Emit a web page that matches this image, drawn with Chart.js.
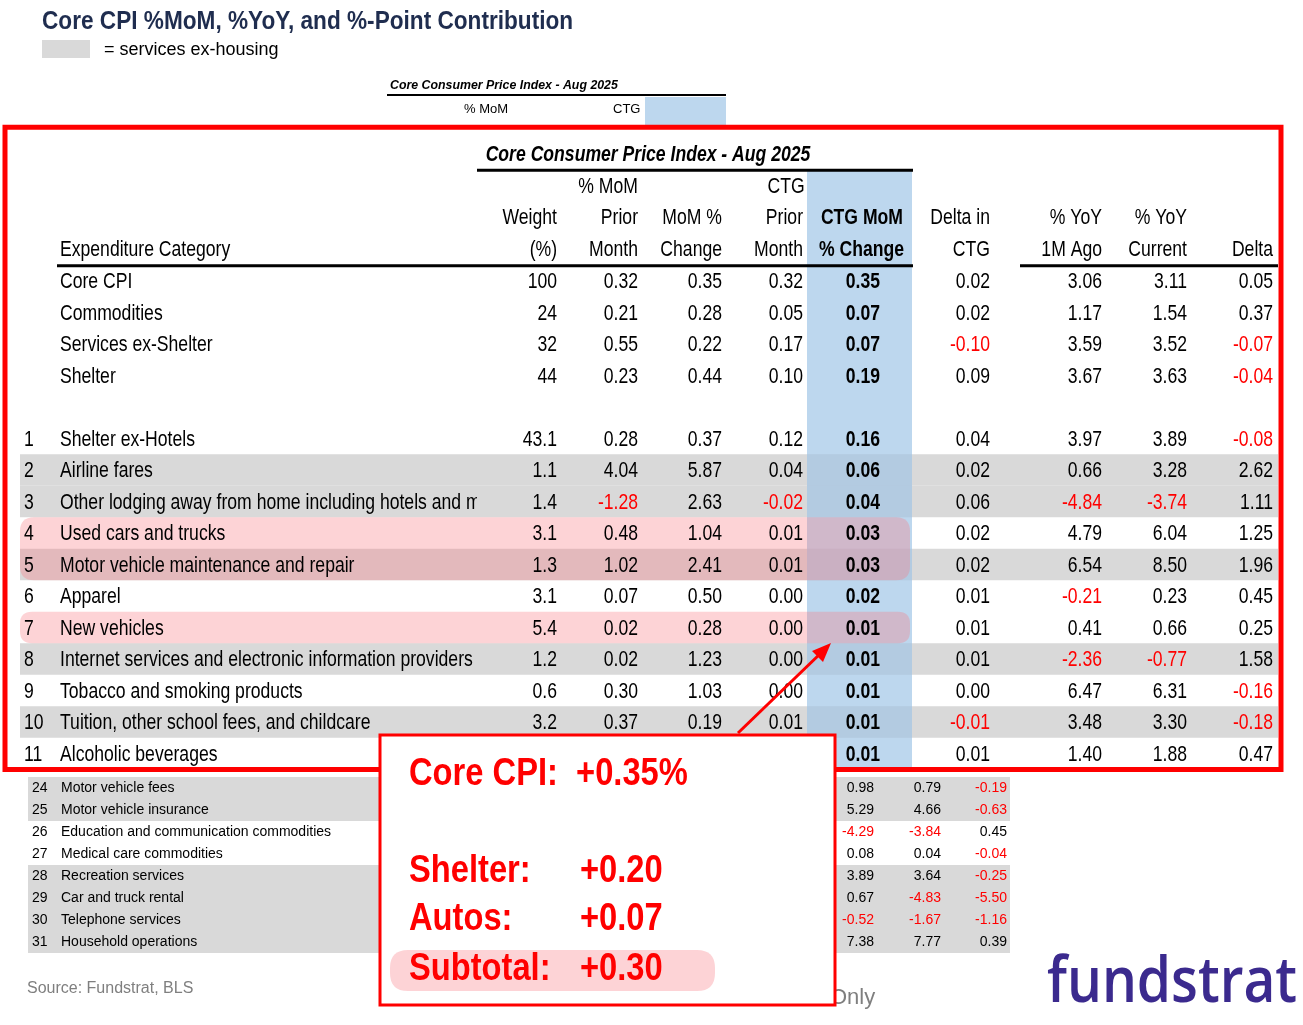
<!DOCTYPE html>
<html>
<head>
<meta charset="utf-8">
<script src="https://cdn.jsdelivr.net/npm/chart.js@4.4.1/dist/chart.umd.min.js"></script>
<style>
  html, body { margin: 0; padding: 0; background: #fff; }
  canvas { display: block; }
</style>
</head>
<body>
<canvas id="cpi-table" width="1303" height="1025"></canvas>
<script>
// ---- data ----
const rowNums = ['', '', '', '', '1', '2', '3', '4', '5', '6', '7', '8', '9', '10', '11'];
const categories = [
  'Core CPI', 'Commodities', 'Services ex-Shelter', 'Shelter',
  'Shelter ex-Hotels', 'Airline fares', 'Other lodging away from home including hotels and motels',
  'Used cars and trucks', 'Motor vehicle maintenance and repair', 'Apparel', 'New vehicles',
  'Internet services and electronic information providers', 'Tobacco and smoking products',
  'Tuition, other school fees, and childcare', 'Alcoholic beverages'
];
const rowIndex   = [0, 1, 2, 3, 5, 6, 7, 8, 9, 10, 11, 12, 13, 14, 15];
const weight     = [100, 24, 32, 44, 43.1, 1.1, 1.4, 3.1, 1.3, 3.1, 5.4, 1.2, 0.6, 3.2, null];
const priorMoM   = [0.32, 0.21, 0.55, 0.23, 0.28, 4.04, -1.28, 0.48, 1.02, 0.07, 0.02, 0.02, 0.30, 0.37, null];
const momChange  = [0.35, 0.28, 0.22, 0.44, 0.37, 5.87, 2.63, 1.04, 2.41, 0.50, 0.28, 1.23, 1.03, 0.19, null];
const ctgPrior   = [0.32, 0.05, 0.17, 0.10, 0.12, 0.04, -0.02, 0.01, 0.01, 0.00, 0.00, 0.00, 0.00, 0.01, null];
const ctgMoM     = [0.35, 0.07, 0.07, 0.19, 0.16, 0.06, 0.04, 0.03, 0.03, 0.02, 0.01, 0.01, 0.01, 0.01, 0.01];
const deltaCTG   = [0.02, 0.02, -0.10, 0.09, 0.04, 0.02, 0.06, 0.02, 0.02, 0.01, 0.01, 0.01, 0.00, -0.01, 0.01];
const yoy1M      = [3.06, 1.17, 3.59, 3.67, 3.97, 0.66, -4.84, 4.79, 6.54, -0.21, 0.41, -2.36, 6.47, 3.48, 1.40];
const yoyCurrent = [3.11, 1.54, 3.52, 3.63, 3.89, 3.28, -3.74, 6.04, 8.50, 0.23, 0.66, -0.77, 6.31, 3.30, 1.88];
const yoyDelta   = [0.05, 0.37, -0.07, -0.04, -0.08, 2.62, 1.11, 1.25, 1.96, 0.45, 0.25, 1.58, -0.16, -0.18, 0.47];
const servicesExHousing = [false, false, false, false, false, true, true, false, true, false, false, true, false, true, false];

const lowerNums   = [24, 25, 26, 27, 28, 29, 30, 31];
const lowerCats   = ['Motor vehicle fees', 'Motor vehicle insurance', 'Education and communication commodities',
  'Medical care commodities', 'Recreation services', 'Car and truck rental', 'Telephone services', 'Household operations'];
const lowerYoY1M  = [0.98, 5.29, -4.29, 0.08, 3.89, 0.67, -0.52, 7.38];
const lowerYoYCur = [0.79, 4.66, -3.84, 0.04, 3.64, -4.83, -1.67, 7.77];
const lowerDelta  = [-0.19, -0.63, 0.45, -0.04, -0.25, -5.50, -1.16, 0.39];
const lowerGrey   = [true, true, false, false, true, true, true, true];

const calloutLabels = ['Shelter:', 'Autos:', 'Subtotal:'];
const calloutValues = [0.20, 0.07, 0.30];
const coreHeadline = 0.35;

const ARIAL = '"Liberation Sans", Arial, sans-serif';
const RED = '#ff0000';
const SQ = 0.8; // horizontal squeeze to mimic a narrow face

// column right edges on the x scale
const cols = { weight: 557, prior: 638, mom: 722, ctgPrior: 803, ctgMoM: 880, delta: 990, yoy1: 1102, yoyCur: 1187, yoyDelta: 1273 };

function fmt(v, d) { return v === null ? '' : v.toFixed(d); }

// narrow text: draw with horizontal squeeze
function nt(ctx, s, x, y, align, sx) {
  ctx.save();
  ctx.translate(x, y);
  ctx.scale(sx || SQ, 1);
  ctx.textAlign = align || 'left';
  ctx.fillText(s, 0, 0);
  ctx.restore();
}

function rrect(ctx, x, y, w, h, r) {
  ctx.beginPath();
  ctx.moveTo(x + r, y); ctx.lineTo(x + w - r, y); ctx.quadraticCurveTo(x + w, y, x + w, y + r);
  ctx.lineTo(x + w, y + h - r); ctx.quadraticCurveTo(x + w, y + h, x + w - r, y + h);
  ctx.lineTo(x + r, y + h); ctx.quadraticCurveTo(x, y + h, x, y + h - r);
  ctx.lineTo(x, y + r); ctx.quadraticCurveTo(x, y, x + r, y); ctx.closePath();
}

const tablePlugin = {
  id: 'tablePlugin',
  afterDraw(chart) {
    const ctx = chart.ctx;
    const X = v => chart.scales.x.getPixelForValue(v);
    const Y = v => chart.scales.y.getPixelForValue(v);
    const Y2 = v => chart.scales.y2.getPixelForValue(v);
    const rowH = Y(1) - Y(0);
    ctx.save();
    ctx.textBaseline = 'middle';

    // page title + legend
    ctx.fillStyle = '#1f2d4f';
    ctx.font = 'bold 26px ' + ARIAL;
    nt(ctx, 'Core CPI %MoM, %YoY, and %-Point Contribution', 42, 22, 'left', 0.87);
    ctx.fillStyle = '#d9d9d9';
    ctx.fillRect(42, 40, 48, 18);
    ctx.fillStyle = '#000';
    ctx.font = '18px ' + ARIAL;
    ctx.textAlign = 'left';
    ctx.fillText('= services ex-housing', 104, 50);

    // small header behind
    ctx.font = 'bold italic 13px ' + ARIAL;
    nt(ctx, 'Core Consumer Price Index - Aug 2025', 390, 85, 'left', 0.95);
    ctx.fillRect(387, 94, 339, 2);
    ctx.font = '13px ' + ARIAL;
    ctx.fillText('% MoM', 464, 109);
    ctx.fillText('CTG', 613, 109);
    ctx.fillStyle = '#bdd7ee';
    ctx.fillRect(645, 97, 81, 28);

    // ---- lower (background) table ----
    const lh = Y2(1) - Y2(0);
    lowerNums.forEach((n, i) => {
      const y = Y2(n);
      if (lowerGrey[i]) { ctx.fillStyle = '#d9d9d9'; ctx.fillRect(28, y - lh / 2, 982, lh); }
      ctx.fillStyle = '#000';
      ctx.font = '14px ' + ARIAL;
      ctx.textAlign = 'left';
      ctx.fillText(String(n), 32, y);
      ctx.fillText(lowerCats[i], 61, y);
      ctx.textAlign = 'right';
      [[lowerYoY1M[i], 874], [lowerYoYCur[i], 941], [lowerDelta[i], 1007]].forEach(([v, x]) => {
        ctx.fillStyle = v < 0 ? RED : '#000';
        ctx.fillText(fmt(v, 2), x, y);
      });
    });
    ctx.fillStyle = '#7f7f7f';
    ctx.font = '16px ' + ARIAL;
    ctx.textAlign = 'left';
    ctx.fillText('Source: Fundstrat, BLS', 27, 989);
    ctx.font = '22px ' + ARIAL;
    ctx.fillText('Only', 830, 998);
    ctx.fillStyle = '#3b2a8e';
    ctx.font = '600 64px "Open Sans", ' + ARIAL;
    nt(ctx, 'fundstrat', 1047, 984, 'left', 0.86);

    // ---- main table panel ----
    const top = Y(-4.5) - 12, bottom = Y(15) + 16;
    ctx.fillStyle = '#fff';
    ctx.fillRect(5, top, 1276, bottom - top);

    // blue CTG column
    ctx.fillStyle = '#bdd7ee';
    ctx.fillRect(X(807), Y(-3.5), X(912) - X(807), bottom - Y(-3.5));

    // grey rows
    rowIndex.forEach((r, i) => {
      if (!servicesExHousing[i]) return;
      const y = Y(r);
      ctx.fillStyle = '#d9d9d9';
      ctx.fillRect(X(20), y - rowH / 2, X(807) - X(20), rowH);
      ctx.fillRect(X(912), y - rowH / 2, X(1278) - X(912), rowH);
      ctx.fillStyle = 'rgba(160,180,200,0.35)';
      ctx.fillRect(X(807), y - rowH / 2, X(912) - X(807), rowH);
    });

    // pink highlights (autos)
    ctx.fillStyle = 'rgba(250,120,130,0.33)';
    rrect(ctx, X(20), Y(8) - rowH / 2, X(910) - X(20), rowH * 2, 14); ctx.fill();
    rrect(ctx, X(20), Y(11) - rowH / 2, X(910) - X(20), rowH, 12); ctx.fill();

    // title + lines
    ctx.fillStyle = '#000';
    ctx.font = 'bold italic 22px ' + ARIAL;
    nt(ctx, 'Core Consumer Price Index - Aug 2025', 648, Y(-4), 'center', 0.8);
    ctx.fillRect(477, Y(-3.5) - 2, 436, 3);
    ctx.fillRect(57, Y(-0.5) - 1, 856, 3);
    ctx.fillRect(1020, Y(-0.5) - 1, 258, 3);

    // header labels
    ctx.font = '22px ' + ARIAL;
    nt(ctx, '% MoM', 608, Y(-3), 'center');
    nt(ctx, 'CTG', 786, Y(-3), 'center');
    const head = [
      ['weight', 'Weight', '(%)'], ['prior', 'Prior', 'Month'], ['mom', 'MoM %', 'Change'],
      ['ctgPrior', 'Prior', 'Month'], ['delta', 'Delta in', 'CTG'], ['yoy1', '% YoY', '1M Ago'],
      ['yoyCur', '% YoY', 'Current'], ['yoyDelta', '', 'Delta']
    ];
    head.forEach(([k, a, b]) => {
      nt(ctx, a, X(cols[k]), Y(-2), 'right');
      nt(ctx, b, X(cols[k]), Y(-1), 'right');
    });
    ctx.font = 'bold 22px ' + ARIAL;
    nt(ctx, 'CTG MoM', X(903), Y(-2), 'right');
    nt(ctx, '% Change', X(904), Y(-1), 'right');
    ctx.font = '22px ' + ARIAL;
    nt(ctx, 'Expenditure Category', X(60), Y(-1), 'left');

    // data rows
    rowIndex.forEach((r, i) => {
      const y = Y(r) + 1;
      ctx.font = '22px ' + ARIAL;
      ctx.fillStyle = '#000';
      nt(ctx, rowNums[i], X(24), y, 'left');
      ctx.save();
      ctx.beginPath(); ctx.rect(X(55), y - rowH / 2, X(477) - X(55), rowH); ctx.clip();
      nt(ctx, categories[i], X(60), y, 'left');
      ctx.restore();
      const cells = [
        [weight[i], 'weight', i < 4 ? 0 : 1],
        [priorMoM[i], 'prior', 2], [momChange[i], 'mom', 2], [ctgPrior[i], 'ctgPrior', 2],
        [deltaCTG[i], 'delta', 2], [yoy1M[i], 'yoy1', 2], [yoyCurrent[i], 'yoyCur', 2], [yoyDelta[i], 'yoyDelta', 2]
      ];
      cells.forEach(([v, k, d]) => {
        if (v === null) return;
        ctx.fillStyle = v < 0 ? RED : '#000';
        nt(ctx, fmt(v, d), X(cols[k]), y, 'right');
      });
      ctx.font = 'bold 22px ' + ARIAL;
      ctx.fillStyle = ctgMoM[i] < 0 ? RED : '#000';
      nt(ctx, fmt(ctgMoM[i], 2), X(cols.ctgMoM), y, 'right');
    });

    // red frame
    ctx.strokeStyle = RED;
    ctx.lineWidth = 5;
    ctx.strokeRect(5, top, 1276, bottom - top);

    // arrow
    ctx.lineWidth = 3;
    ctx.beginPath(); ctx.moveTo(738, 733); ctx.lineTo(822, 652); ctx.stroke();
    ctx.fillStyle = RED;
    ctx.beginPath(); ctx.moveTo(831, 643); ctx.lineTo(812, 651); ctx.lineTo(823, 662); ctx.closePath(); ctx.fill();

    // callout
    ctx.fillStyle = '#fff';
    ctx.fillRect(380, 735, 455, 270);
    ctx.strokeStyle = RED;
    ctx.lineWidth = 3;
    ctx.strokeRect(380, 735, 455, 270);
    ctx.fillStyle = 'rgba(250,120,130,0.33)';
    rrect(ctx, 390, 950, 325, 41, 18); ctx.fill();
    ctx.fillStyle = RED;
    ctx.font = 'bold 38px ' + ARIAL;
    nt(ctx, 'Core CPI:  +' + coreHeadline.toFixed(2) + '%', 409, 775, 'left', 0.86);
    const cy = [872, 920, 970];
    calloutLabels.forEach((lab, i) => {
      nt(ctx, lab, 409, cy[i], 'left', 0.86);
      nt(ctx, '+' + calloutValues[i].toFixed(2), 580, cy[i], 'left', 0.86);
    });
    ctx.restore();
  }
};

new Chart(document.getElementById('cpi-table'), {
  type: 'scatter',
  data: { datasets: [{ data: [], pointRadius: 0 }] },
  options: {
    responsive: false,
    animation: false,
    layout: { padding: 0 },
    plugins: { legend: { display: false }, tooltip: { enabled: false } },
    scales: {
      x: { type: 'linear', min: 0, max: 1303, display: false },
      y: { type: 'linear', reverse: true, min: -281 / 31.5, max: -281 / 31.5 + 1025 / 31.5, display: false },
      y2: { type: 'linear', reverse: true, min: 24 - 788 / 22, max: 24 - 788 / 22 + 1025 / 22, display: false }
    }
  },
  plugins: [tablePlugin]
});
</script>
</body>
</html>
